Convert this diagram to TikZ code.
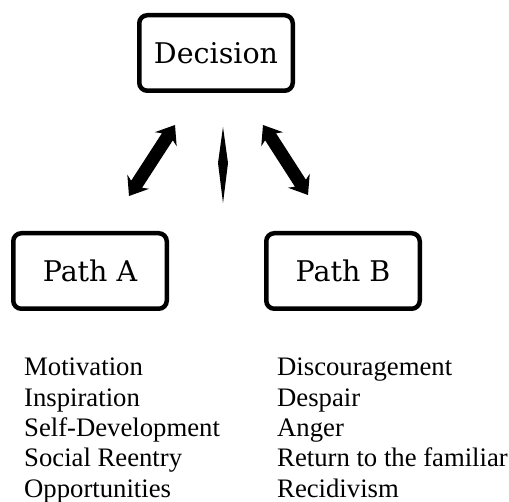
\documentclass[tikz,border=0pt]{standalone}
\usepackage{fontspec}
\setmainfont{Liberation Serif}
\newfontfamily\boxfont{DejaVu Serif}
\usetikzlibrary{calc}
\tikzset{
  pathbox/.style={draw=black, line width=4.5pt, rounded corners=8pt, minimum width=153.5pt, minimum height=75.5pt, inner sep=0pt, font=\boxfont\fontsize{28.5}{30}\selectfont},
  item/.style={anchor=base west, inner sep=0pt, font=\fontsize{26.7}{30}\selectfont},
}
\newcommand{\dblarrow}[2]{%
  \fill[black]
    (#1)
    -- ($($(#1)!17pt!(#2)$)!13pt!90:(#2)$)
    -- ($($(#1)!14pt!(#2)$)!6.5pt!90:(#2)$)
    -- ($($(#2)!14pt!(#1)$)!6.5pt!-90:(#1)$)
    -- ($($(#2)!17pt!(#1)$)!13pt!-90:(#1)$)
    -- (#2)
    -- ($($(#2)!17pt!(#1)$)!13pt!90:(#1)$)
    -- ($($(#2)!14pt!(#1)$)!6.5pt!90:(#1)$)
    -- ($($(#1)!14pt!(#2)$)!6.5pt!-90:(#2)$)
    -- ($($(#1)!17pt!(#2)$)!13pt!-90:(#2)$)
    -- cycle;}
\begin{document}
\begin{tikzpicture}[x=1pt,y=-1pt]
\useasboundingbox (0,0) rectangle (509,502);
\node[pathbox] (dec) at (216,53) {Decision};
\node[pathbox] (pa) at (90,271) {Path A};
\node[pathbox] (pb) at (343,271) {Path B};
% arrows
\coordinate (la1) at (175,125);
\coordinate (la2) at (129,196);
\coordinate (ra1) at (263,125);
\coordinate (ra2) at (308,195);
\dblarrow{la1}{la2}
\dblarrow{ra1}{ra2}
% middle diamond
\coordinate (mt) at (223,127);
\coordinate (mb) at (223,203);
\fill[black] (mt) -- (228,163) -- (mb) -- (218,163) -- cycle;
% lists
\node[item] (a1) at (24,376) {Motivation};
\node[item] (a2) at (24,406.3) {Inspiration};
\node[item] (a3) at (24,436.6) {Self-Development};
\node[item] (a4) at (24,466.9) {Social Reentry};
\node[item] (a5) at (24,497.2) {Opportunities};
\node[item] (b1) at (277,376) {Discouragement};
\node[item] (b2) at (277,406.3) {Despair};
\node[item] (b3) at (277,436.6) {Anger};
\node[item] (b4) at (277,466.9) {Return to the familiar};
\node[item] (b5) at (277,497.2) {Recidivism};
\end{tikzpicture}
\end{document}
